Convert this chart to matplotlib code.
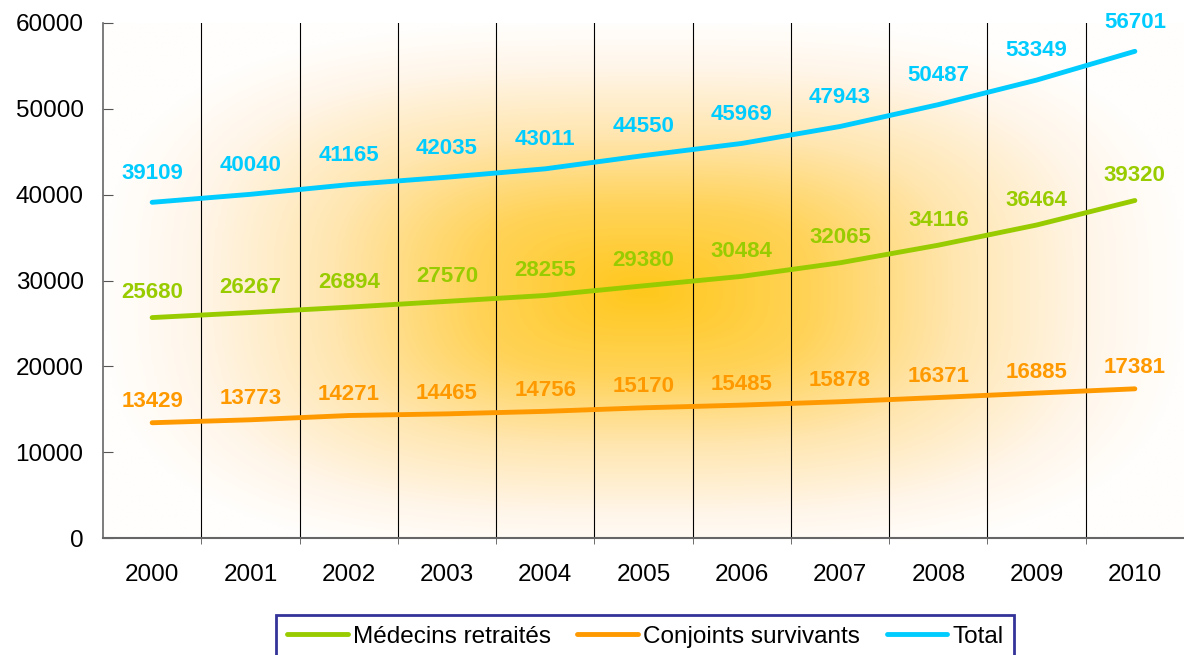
import numpy as np
import matplotlib
matplotlib.use('Agg')
import matplotlib.pyplot as plt
from matplotlib.colors import LinearSegmentedColormap

plt.rcParams['font.family'] = ['Liberation Sans', 'DejaVu Sans']

years = ['2000', '2001', '2002', '2003', '2004', '2005', '2006', '2007', '2008', '2009', '2010']
medecins = [25680, 26267, 26894, 27570, 28255, 29380, 30484, 32065, 34116, 36464, 39320]
conjoints = [13429, 13773, 14271, 14465, 14756, 15170, 15485, 15878, 16371, 16885, 17381]
total = [39109, 40040, 41165, 42035, 43011, 44550, 45969, 47943, 50487, 53349, 56701]

c_med = '#99cc00'
c_conj = '#ff9900'
c_tot = '#00ccff'

fig = plt.figure(figsize=(11.84, 6.55), dpi=100)
ax = fig.add_axes([0.087, 0.1786, 0.913, 0.7863])

x = np.arange(len(years))
ax.set_xlim(-0.5, len(years) - 0.5)
ax.set_ylim(0, 60000)

# fond en degrade depuis le centre
u = np.linspace(0, 1, 400)
v = np.linspace(0, 1, 300)
U, V = np.meshgrid(u, v)
p = 3.0
d = ((np.abs(U - 0.5) / 0.5) ** p + (np.abs(V - 0.48) / 0.52) ** p) ** (1 / p)
d = np.clip(d, 0, 1)
cmap = LinearSegmentedColormap.from_list('glow', [
    (0.0, '#ffc81c'), (0.32, '#ffd35a'), (0.58, '#ffe6b0'),
    (0.84, '#fff6ea'), (1.0, '#fffefc')])
ax.imshow(d, cmap=cmap, vmin=0, vmax=1, origin='lower', aspect='auto',
          extent=[-0.5, len(years) - 0.5, 0, 60000], zorder=0, interpolation='bilinear')

ax.set_xticks(x)
ax.set_xticklabels(years)
ax.set_xticks(x[:-1] + 0.5, minor=True)
ax.grid(True, which='minor', axis='x', color='black', linewidth=0.8, zorder=1)
ax.tick_params(axis='x', which='major', length=0, pad=19, labelsize=17.5)
ax.tick_params(axis='x', which='minor', length=4, direction='out', color='#555555')
ax.set_yticks(range(0, 60001, 10000))
ax.tick_params(axis='y', direction='in', length=7, pad=14, labelsize=17.5, color='#555555')

for s in ['top', 'right']:
    ax.spines[s].set_visible(False)
ax.spines['left'].set_color('#666666')
ax.spines['bottom'].set_color('#666666')
ax.spines['left'].set_linewidth(1.2)
ax.spines['bottom'].set_linewidth(1.5)

series = [
    (medecins, c_med, 'Médecins retraités', 18),
    (conjoints, c_conj, 'Conjoints survivants', 15),
    (total, c_tot, 'Total', 21),
]
for vals, col, name, off in series:
    ax.plot(x, vals, color=col, linewidth=3.5, solid_capstyle='round',
            solid_joinstyle='round', label=name, zorder=3)
    for xi, val in zip(x, vals):
        ax.annotate(str(val), (xi, val), xytext=(0, off), textcoords='offset points',
                    ha='center', va='center', color=col, fontsize=16,
                    fontweight='bold', zorder=4)

leg = fig.legend(loc='upper center', bbox_to_anchor=(0.545, 0.061), ncol=3,
                 fontsize=17.5, frameon=True, fancybox=False, handlelength=2.5,
                 handletextpad=0.2, columnspacing=1.1, borderpad=0.45,
                 borderaxespad=0)
leg.get_frame().set_edgecolor('#000080')
leg.get_frame().set_linewidth(2)

fig.savefig('out.png', dpi=100)
